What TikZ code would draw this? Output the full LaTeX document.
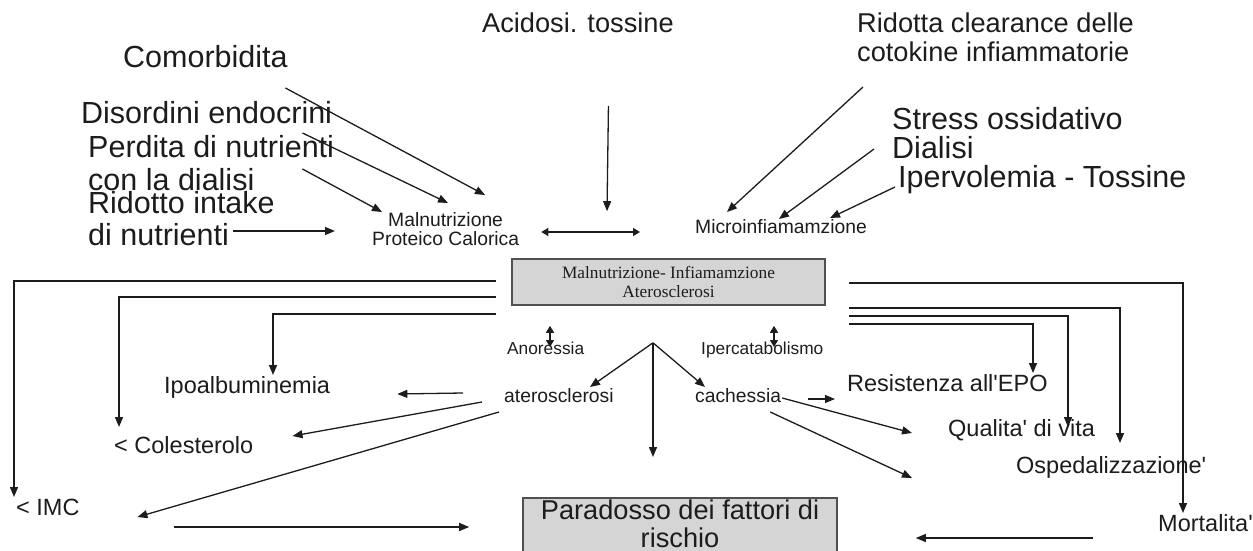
\documentclass[tikz,border=0pt]{standalone}
\usepackage{fontspec}
\setmainfont{Liberation Sans}
\newfontfamily\boxfont{Liberation Serif}
\usepackage{xcolor}
\usetikzlibrary{positioning, arrows.meta}
\definecolor{Ink}{HTML}{1C1C1C}
\definecolor{PanelGray}{HTML}{D5D5D5}
\definecolor{PanelEdge}{HTML}{505050}

\begin{document}
\begin{tikzpicture}[
    x=1pt, y=-1pt,
    lbl/.style={anchor=base west, inner sep=0pt, text=Ink},
    big/.style={lbl, font=\fontsize{30.5}{33}\selectfont},
    mid/.style={lbl, font=\fontsize{27.2}{29}\selectfont},
    side/.style={lbl, font=\fontsize{23.5}{25}\selectfont},
    small/.style={lbl, font=\fontsize{19.3}{20}\selectfont},
    tiny/.style={lbl, font=\fontsize{17.3}{18}\selectfont},
    panel/.style={draw=PanelEdge, line width=1.6pt, fill=PanelGray, align=center, text=Ink},
    arr/.style={draw=Ink, line width=1.3pt, -{Triangle[length=10pt, width=8pt]}},
    twoway/.style={draw=Ink, line width=1.3pt, {Triangle[length=7pt, width=8pt]}-{Triangle[length=7pt, width=8pt]}},
    wire/.style={draw=Ink, line width=1.4pt, -{Triangle[length=10pt, width=8pt]}}
  ]
  \useasboundingbox (0,0) rectangle (1253,551);
  \clip (0,0) rectangle (1253,551);

  %% Central boxes
  \node[panel, minimum width=313pt, minimum height=46pt, inner sep=0pt,
        font=\boxfont\fontsize{17.3}{19}\selectfont] (mia) at (668.5,282)
        {Malnutrizione- Infiamamzione\\Aterosclerosi};
  \node[panel, anchor=north, minimum width=314pt, inner xsep=0pt, inner ysep=1.5pt,
        font=\fontsize{27.2}{28.5}\selectfont] (parad) at (680,497)
        {Paradosso dei fattori di\\rischio\rule[-15pt]{0pt}{16pt}};

  %% Causes, left
  \node[big] (como) at (123,68) {Comorbidita};
  \node[big] (endo) at (81,123) {Disordini endocrini};
  \node[big] (perd) at (88,157) {Perdita di nutrienti};
  \node[big] (perdb) at (88,190) {con la dialisi};
  \node[big] (ridi) at (88,213) {Ridotto intake};
  \node[big] (ridib) at (88,245) {di nutrienti};

  %% Causes, top and right
  \node[mid] (acid) at (482,33) {Acidosi. tossine};
  \node[mid] (clear) at (857,33) {Ridotta clearance delle};
  \node[mid] (clearb) at (857,62) {cotokine infiammatorie};
  \node[big] (stress) at (892,129) {Stress ossidativo};
  \node[big] (dial) at (892,158) {Dialisi};
  \node[big] (iper) at (898,187) {Ipervolemia - Tossine};

  %% Intermediate
  \node[small] (maln) at (388,226) {Malnutrizione};
  \node[small] (malnb) at (372,245) {Proteico Calorica};
  \node[small] (micro) at (695,233) {Microinfiamamzione};
  \node[tiny] (anor) at (507,354) {Anoressia};
  \node[tiny] (iperc) at (701,354) {Ipercatabolismo};
  \node[small] (ater) at (504,402) {aterosclerosi};
  \node[small] (cach) at (695,402) {cachessia};

  %% Outcomes
  \node[side] (ipoa) at (164,393) {Ipoalbuminemia};
  \node[side] (chol) at (114,453) {< Colesterolo};
  \node[side] (imc) at (16,515) {< IMC};
  \node[side] (resi) at (847,391) {Resistenza all\textquotesingle EPO};
  \node[side] (qual) at (948,436) {Qualita\textquotesingle{} di vita};
  \node[side] (osped) at (1016,473) {Ospedalizzazione\textquotesingle};
  \node[side] (mort) at (1158,531) {Mortalita\textquotesingle};

  %% Arrows into Malnutrizione
  \draw[arr] ([shift={(-2.4,20)}]como.base east) -- ([shift={(97,-31)}]maln.base west);
  \draw[arr] ([shift={(-29.8,10)}]endo.base east) -- ([shift={(60,-23)}]maln.base west);
  \draw[arr] ([shift={(-31.8,12)}]perd.base east) -- ([shift={(-6,-14)}]maln.base west);
  \draw[arr] ([shift={(4.3,-14)}]ridib.base east) -- ([shift={(-37,-14)}]malnb.base west);

  %% Arrows into the centre and Microinfiamamzione
  \draw[arr] ([shift={(30.5,73)}]acid.base) -- ([shift={(-61.5,-47)}]mia.north);
  \draw[twoway] ([shift={(22,-13)}]malnb.base east) -- ([shift={(-55,-1)}]micro.base west);
  \draw[arr] ([shift={(6,25)}]clearb.base west) -- ([shift={(32,-21)}]micro.base west);
  \draw[arr] ([shift={(-18,-9)}]dial.base west) -- ([shift={(84,-14)}]micro.base west);
  \draw[arr] ([shift={(-3,0)}]iper.base west) -- ([shift={(135,-15)}]micro.base west);

  %% Brackets, left
  \draw[wire] ([shift={(-15,-1)}]mia.west) -| ([shift={(-2,-18)}]imc.base west);
  \draw[wire] ([shift={(-15,15)}]mia.west) -| ([shift={(5,-26)}]chol.base west);
  \draw[wire] ([shift={(-15,32)}]mia.west) -| ([shift={(109,-18)}]ipoa.base west);
  %% Brackets, right
  \draw[wire] ([shift={(23,1)}]mia.east) -| ([shift={(25,-18)}]mort.base west);
  \draw[wire] ([shift={(23,26)}]mia.east) -| ([shift={(104,-30)}]osped.base west);
  \draw[wire] ([shift={(23,34)}]mia.east) -| ([shift={(120,-9)}]qual.base west);
  \draw[wire] ([shift={(23,42)}]mia.east) -| ([shift={(186,-18)}]resi.base west);

  %% Anoressia / Ipercatabolismo
  \draw[twoway] ([shift={(-118.5,20)}]mia.south) -- ([shift={(43,-7)}]anor.base west);
  \draw[twoway] ([shift={(105.5,20)}]mia.south) -- ([shift={(73,-7)}]iperc.base west);

  %% Fan below the centre
  \coordinate (fan) at ([shift={(-15.5,37)}]mia.south);
  \draw[arr] (fan) -- ([shift={(86,-15)}]ater.base west);
  \draw[arr] (fan) -- ([shift={(10,-15)}]cach.base west);
  \draw[arr] (fan) -- ([shift={(-27,-40)}]parad.north);

  %% From aterosclerosi
  \draw[arr] ([shift={(-41,-9)}]ater.base west) -- ([shift={(67,1)}]ipoa.base east);
  \draw[arr] ([shift={(-22,0)}]ater.base west) -- ([shift={(39,-17)}]chol.base east);
  \draw[arr] ([shift={(-5,10)}]ater.base west) -- ([shift={(57.7,2)}]imc.base east);
  %% From cachessia
  \draw[arr] ([shift={(27,-3)}]cach.base east) -- ([shift={(-12,8)}]resi.base west);
  \draw[arr] ([shift={(1,-4)}]cach.base east) -- ([shift={(-36,-3)}]qual.base west);
  \draw[arr] ([shift={(-11,10)}]cach.base east) -- ([shift={(-104,5)}]osped.base west);

  %% Into Paradosso
  \draw[arr] ([shift={(94,12)}]imc.base east) -- ([shift={(-53,30)}]parad.north west);
  \draw[arr] ([shift={(-65,7)}]mort.base west) -- ([shift={(78,41)}]parad.north east);
\end{tikzpicture}
\end{document}
